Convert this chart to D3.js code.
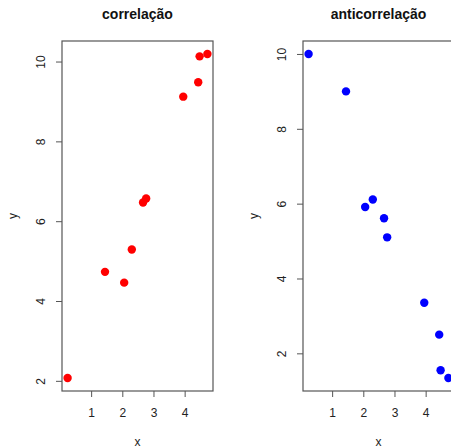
<!DOCTYPE html>
<html>
<head>
<meta charset="utf-8">
<script src="https://cdn.jsdelivr.net/npm/d3@7/dist/d3.min.js"></script>
<style>
  body { margin: 0; background: #fff; }
  svg { display: block; font-family: "Liberation Sans", Arial, sans-serif; }
</style>
</head>
<body>
<svg id="chart" width="451" height="448"></svg>
<script>
// ---- data ----
const xValues = [0.245, 1.445, 2.06, 2.305, 2.665, 2.765, 3.955, 4.435, 4.48, 4.73];
const yCorrelacao = [2.07, 4.73, 4.46, 5.29, 6.47, 6.57, 9.12, 9.48, 10.13, 10.19];
const yAnticorrelacao = [10.0, 9.0, 5.91, 6.11, 5.61, 5.1, 3.35, 2.5, 1.55, 1.34];
const xTicks = [1, 2, 3, 4];
const yTicks = [2, 4, 6, 8, 10];
const titles = ["correlação", "anticorrelação"];
const pointColors = ["#ff0000", "#0000ff"];

const svg = d3.select("#chart");

function padded(vals) {
  const [a, b] = d3.extent(vals);
  const p = (b - a) * 0.04;
  return [a - p, b + p];
}

function panel(left, ys, title, color) {
  const top = 41, bottom = 391, width = 151;
  const x = d3.scaleLinear().domain(padded(xValues)).range([left, left + width]);
  const y = d3.scaleLinear().domain(padded(ys)).range([bottom, top]);
  const g = svg.append("g");

  // title
  g.append("text")
    .attr("x", left + width / 2).attr("y", 18.5)
    .attr("text-anchor", "middle")
    .attr("font-size", 14).attr("font-weight", "bold").attr("fill", "#111")
    .text(title);

  // x axis
  const xa = g.append("g").attr("transform", `translate(0,${bottom})`)
    .call(d3.axisBottom(x).tickValues(xTicks).tickSize(6).tickPadding(11).tickFormat(d3.format("d")));
  xa.select(".domain").remove();
  xa.selectAll("line").attr("stroke", "#555");
  xa.selectAll("text").attr("font-size", 12).attr("fill", "#222")
    .attr("font-family", "Liberation Sans, Arial, sans-serif");

  // y axis
  const ya = g.append("g").attr("transform", `translate(${left},0)`)
    .call(d3.axisLeft(y).tickValues(yTicks).tickSize(6).tickFormat(d3.format("d")));
  ya.select(".domain").remove();
  ya.selectAll("line").attr("stroke", "#555");
  ya.selectAll("text")
    .attr("font-size", 12).attr("fill", "#222")
    .attr("font-family", "Liberation Sans, Arial, sans-serif")
    .attr("transform", "rotate(-90)")
    .attr("x", 0).attr("y", -17.5).attr("dy", 0)
    .attr("text-anchor", "middle");

  // box
  g.append("rect")
    .attr("x", left).attr("y", top)
    .attr("width", width).attr("height", bottom - top)
    .attr("fill", "none").attr("stroke", "#555").attr("stroke-width", 1.2);

  // axis titles
  g.append("text")
    .attr("x", left + width / 2).attr("y", 446)
    .attr("text-anchor", "middle").attr("font-size", 12).attr("fill", "#222")
    .text("x");
  g.append("text")
    .attr("transform", `translate(${left - 45},${(top + bottom) / 2}) rotate(-90)`)
    .attr("text-anchor", "middle").attr("font-size", 12).attr("fill", "#222")
    .text("y");

  // points
  g.selectAll("circle").data(xValues.map((d, i) => [d, ys[i]])).join("circle")
    .attr("cx", d => x(d[0])).attr("cy", d => y(d[1]))
    .attr("r", 4.2).attr("fill", color);
}

panel(62, yCorrelacao, titles[0], pointColors[0]);
panel(303, yAnticorrelacao, titles[1], pointColors[1]);
</script>
</body>
</html>
